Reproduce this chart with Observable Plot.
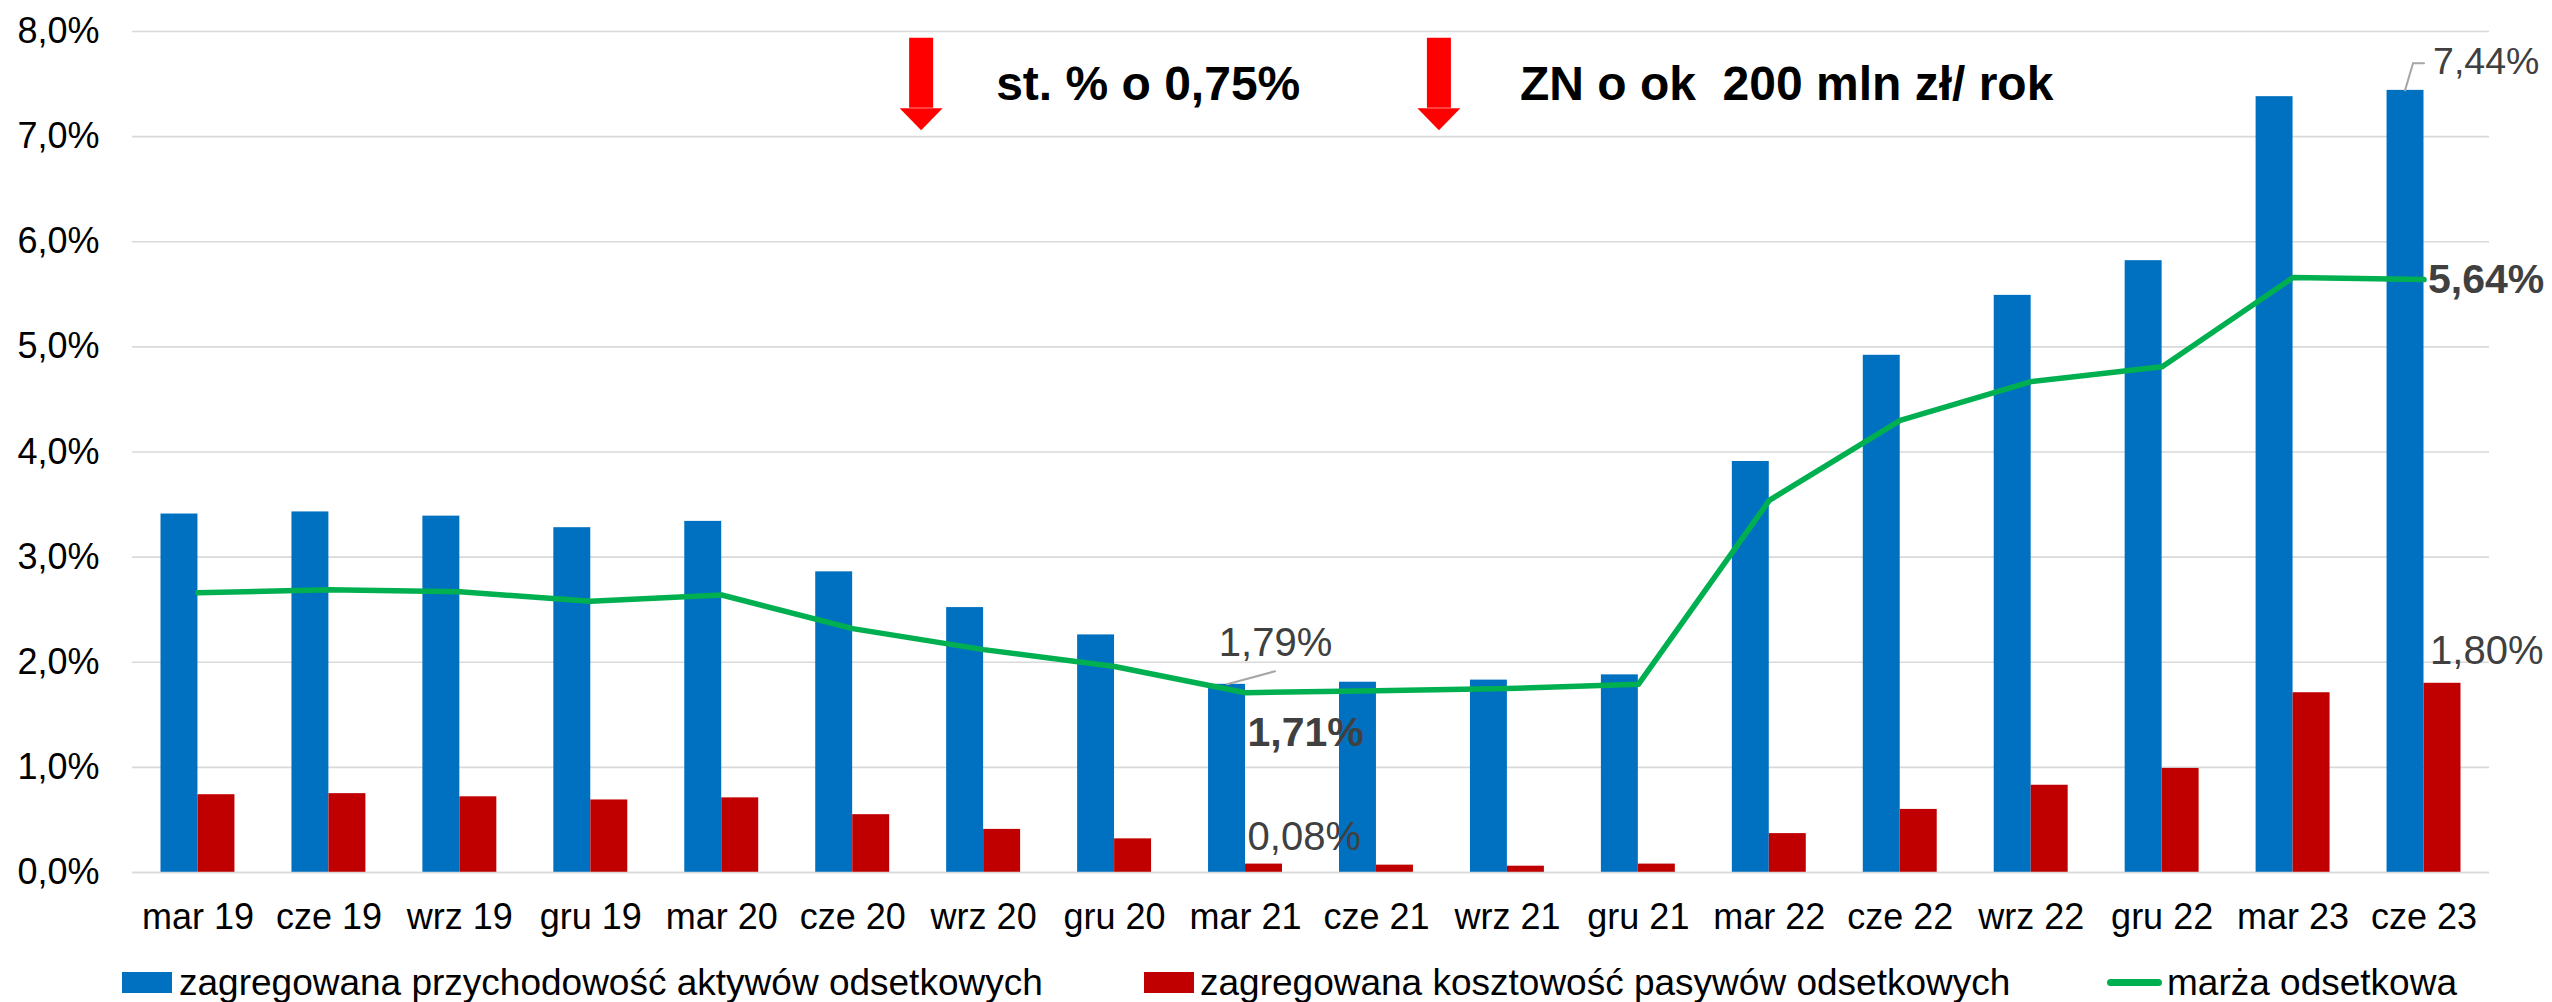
<!DOCTYPE html>
<html><head><meta charset="utf-8">
<script src="https://cdn.jsdelivr.net/npm/d3@7"></script>
<script src="https://cdn.jsdelivr.net/npm/@observablehq/plot@0.6"></script>
<style>
body{margin:0;background:#fff;font-family:"Liberation Sans",Arial,sans-serif;}
#wrap{position:relative;width:2552px;height:1002px;overflow:hidden;background:#fff}
#legend{position:absolute;left:0;top:950px;width:2552px;height:52px;}
.sw{position:absolute;}
.lt{position:absolute;font-size:37px;line-height:37px;white-space:nowrap;color:#000}
</style></head><body><div id="wrap"><div id="chart"></div><div id="legend"></div></div>
<script>
const quarters = ["mar 19","cze 19","wrz 19","gru 19","mar 20","cze 20","wrz 20","gru 20","mar 21","cze 21","wrz 21","gru 21","mar 22","cze 22","wrz 22","gru 22","mar 23","cze 23"];
const assetsYield = [3.41,3.43,3.39,3.28,3.34,2.86,2.52,2.26,1.79,1.81,1.83,1.88,3.91,4.92,5.49,5.82,7.38,7.44];
const liabilitiesCost = [0.74,0.75,0.72,0.69,0.71,0.55,0.41,0.32,0.08,0.07,0.06,0.08,0.37,0.60,0.83,0.99,1.71,1.80];
const interestMargin = [2.66,2.69,2.67,2.58,2.64,2.32,2.12,1.96,1.71,1.73,1.75,1.79,3.54,4.30,4.67,4.81,5.66,5.64];
const seriesNames = ["zagregowana przychodowość aktywów odsetkowych","zagregowana kosztowość pasywów odsetkowych","marża odsetkowa"];
const seriesColors = ["#0070C0","#C00000","#00B050"];
const yTicks = [0,1,2,3,4,5,6,7,8];
const annotations = [
  {x: "wrz 20", label: "st. % o 0,75%"},
  {x: "wrz 21", label: "ZN o ok\u00a0 200 mln zł/ rok"}
];
const arrowTop = 7.935, arrowHeadBase = 7.27, annotationY = 7.49;

const rows = quarters.map((q, i) => ({q, a: assetsYield[i], c: liabilitiesCost[i], m: interestMargin[i]}));
const pct1 = d => d.toFixed(1).replace(".", ",") + "%";
const pct2 = d => d.toFixed(2).replace(".", ",") + "%";
const labelGray = "#404040";
const font = "'Liberation Sans', Arial, sans-serif";

const downTriangle = {draw(ctx, size) { const r = Math.sqrt(size / Math.PI); ctx.moveTo(-r, 0); ctx.lineTo(r, 0); ctx.lineTo(0, r * 1.02); ctx.closePath(); }};
const lineShape = {draw(ctx, l) { ctx.moveTo(0, 0); ctx.lineTo(0, -l); }};

const i21 = quarters.indexOf("mar 21");
const last = quarters.length - 1;
const pick = (i) => [rows[i]];

const marks = [
  Plot.gridY(yTicks, {stroke: "#D9D9D9", strokeOpacity: 1, strokeWidth: 1.6}),
  Plot.barY(rows, {x: "q", y: "a", fill: seriesColors[0], insetLeft: 28.5, insetRight: 65.5}),
  Plot.barY(rows, {x: "q", y: "c", fill: seriesColors[1], insetLeft: 65.5, insetRight: 28.5}),
  Plot.ruleY([0], {stroke: "#D9D9D9", strokeWidth: 1.6}),
  Plot.lineY(rows, {x: "q", y: "m", stroke: seriesColors[2], strokeWidth: 5.5}),
  // annotations: arrows
  ...annotations.map((a, k) => Plot.ruleX([a], {x: "x", y1: arrowTop, y2: arrowHeadBase, stroke: "#FF0000", strokeWidth: 24, dx: k === 0 ? -62.5 : -68.5})),
  ...annotations.map((a, k) => Plot.dot([a], {x: "x", y: arrowHeadBase, symbol: downTriangle, r: 21.5, fill: "#FF0000", stroke: null, dx: k === 0 ? -62.5 : -68.5})),
  Plot.text(annotations, {x: "x", y: annotationY, text: "label", textAnchor: "start", dx: 12.5, fontSize: 48, fontWeight: "bold", fill: "#000"}),
  // leader lines
  Plot.vector(pick(i21), {x: "q", y: "a", length: 49.7, rotate: 74.8, anchor: "start", shape: lineShape, stroke: "#A6A6A6", strokeWidth: 2, dx: -18.5}),
  Plot.vector(pick(last), {x: "q", y: "a", length: 28.2, rotate: 16.5, anchor: "start", shape: lineShape, stroke: "#A6A6A6", strokeWidth: 2, dx: -19}),
  Plot.vector(pick(last), {x: "q", y: "a", length: 11, rotate: 90, anchor: "start", shape: lineShape, stroke: "#A6A6A6", strokeWidth: 2, dx: -11, dy: -27}),
  // data labels
  Plot.text(pick(i21), {x: "q", y: "a", text: d => pct2(d.a), dx: 30, dy: -41, fontSize: 40, fill: labelGray}),
  Plot.text(pick(i21), {x: "q", y: "m", text: d => pct2(d.m), textAnchor: "start", dx: 2, dy: 40, fontSize: 41, fontWeight: "bold", fill: labelGray}),
  Plot.text(pick(i21), {x: "q", y: "c", text: d => pct2(d.c), textAnchor: "start", dx: 2, dy: -26.5, fontSize: 40, fill: labelGray}),
  Plot.text(pick(last), {x: "q", y: "a", text: d => pct2(d.a), textAnchor: "start", dx: 9, dy: -28.5, fontSize: 37.5, fill: labelGray}),
  Plot.text(pick(last), {x: "q", y: "m", text: d => pct2(d.m), textAnchor: "start", dx: 4, dy: 0, fontSize: 41, fontWeight: "bold", fill: labelGray}),
  Plot.text(pick(last), {x: "q", y: "c", text: d => pct2(d.c), textAnchor: "start", dx: 6, dy: -32, fontSize: 40, fill: labelGray})
];

const chart = Plot.plot({
  width: 2552, height: 950,
  marginLeft: 132, marginRight: 63, marginTop: 31, marginBottom: 78,
  style: {fontFamily: font, fontSize: "36px", color: "#000", background: "#fff", overflow: "visible"},
  x: {type: "band", domain: quarters, padding: 0, round: false, label: null, tickSize: 0, tickPadding: 31},
  y: {domain: [0, 8], ticks: yTicks, label: null, tickSize: 0, tickPadding: 33, tickFormat: pct1},
  marks
});
document.getElementById("chart").appendChild(chart);

// legend
const legend = document.getElementById("legend");
const legendItems = [
  {kind: "box", swLeft: 122, textLeft: 179},
  {kind: "box", swLeft: 1144, textLeft: 1200},
  {kind: "line", swLeft: 2107, textLeft: 2167}
];
legendItems.forEach((it, i) => {
  const sw = document.createElement("div");
  sw.className = "sw";
  if (it.kind === "box") {
    Object.assign(sw.style, {left: it.swLeft + "px", top: "22px", width: "50px", height: "21px", background: seriesColors[i]});
  } else {
    Object.assign(sw.style, {left: it.swLeft + "px", top: "29px", width: "55px", height: "7px", background: seriesColors[i], borderRadius: "3.5px"});
  }
  legend.appendChild(sw);
  const t = document.createElement("div");
  t.className = "lt";
  t.style.left = it.textLeft + "px";
  t.style.top = "14px";
  t.textContent = seriesNames[i];
  legend.appendChild(t);
});
</script>
</body></html>
